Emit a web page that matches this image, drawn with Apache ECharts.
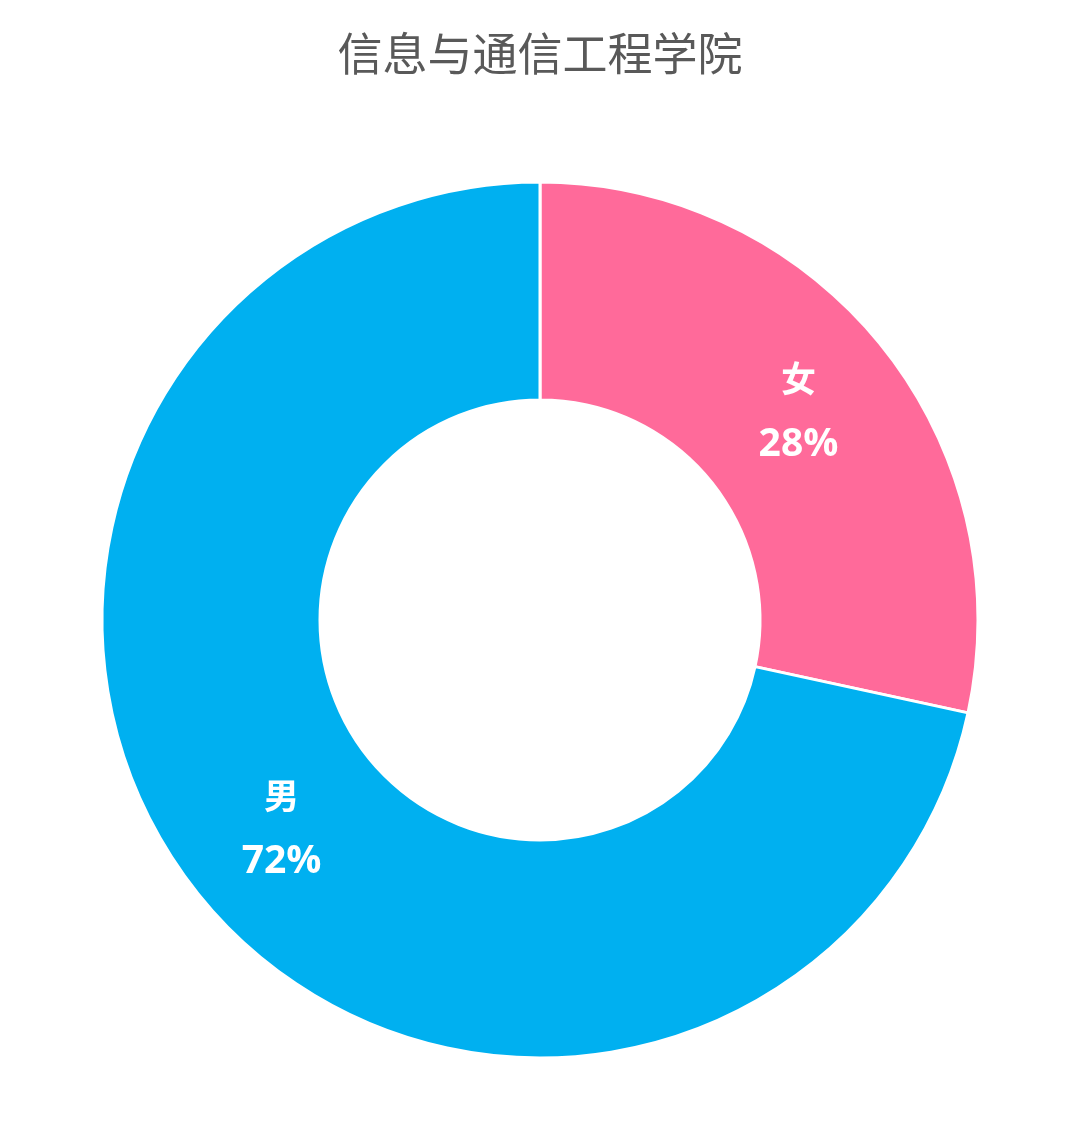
<!DOCTYPE html>
<html><head><meta charset="utf-8">
<script src="https://cdn.jsdelivr.net/npm/echarts@6/dist/echarts.min.js"></script>
<style>html,body{margin:0;padding:0;background:#fff}#c{width:1080px;height:1146px}</style>
</head><body><div id="c"></div>
<script>
const titleText = '信息与通信工程学院';
const categories = ['女', '男'];
const values = [28.4, 71.6];
const colors = ['#FF6A9A', '#00B0F0'];

const chart = echarts.init(document.getElementById('c'));
chart.setOption({
  animation: false,
  title: {
    text: titleText, left: 'center', top: 26,
    textStyle: { fontFamily: 'Noto Sans CJK SC', fontSize: 45, fontWeight: 'normal', color: '#595959' }
  },
  series: [{
    type: 'pie',
    center: [540, 620],
    radius: [220, 438],
    startAngle: 90,
    clockwise: true,
    data: categories.map((n, i) => ({ name: n, value: values[i], itemStyle: { color: colors[i] } })),
    itemStyle: { borderColor: '#fff', borderWidth: 3 },
    label: {
      position: 'inside',
      formatter: p => '{n|' + p.name + '}\n{p|' + Math.round(p.percent) + '%}',
      color: '#fff',
      rich: {
        n: { fontSize: 35, fontWeight: 'bold', color: '#fff', lineHeight: 66, fontFamily: 'Noto Sans CJK SC' },
        p: { fontSize: 39, fontWeight: 'bold', color: '#fff', lineHeight: 66, fontFamily: 'Open Sans' }
      }
    },
    labelLine: { show: false }
  }]
});
</script></body></html>
